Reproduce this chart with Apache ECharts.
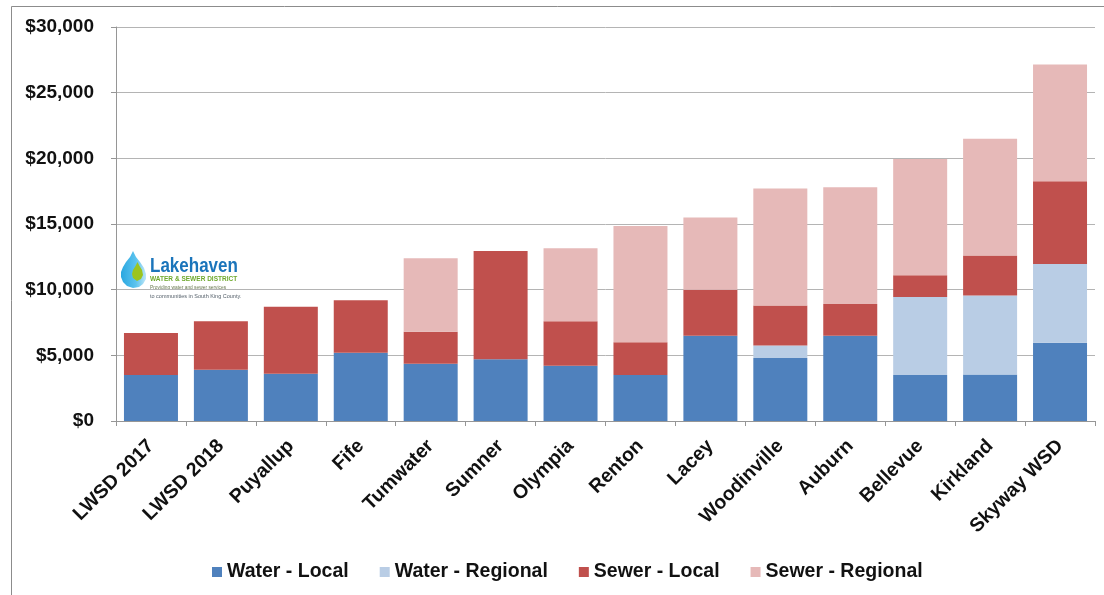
<!DOCTYPE html>
<html>
<head>
<meta charset="utf-8">
<style>html,body{margin:0;padding:0;background:#fff}#chart{width:1104px;height:595px}</style>
<script src="https://cdn.jsdelivr.net/npm/echarts@6/dist/echarts.min.js"></script>
</head>
<body>
<div id="chart"></div>
<script>
// Annual water and sewer cost by utility, stacked by service and source
const categories = ['LWSD 2017','LWSD 2018','Puyallup','Fife','Tumwater','Sumner','Olympia','Renton','Lacey','Woodinville','Auburn','Bellevue','Kirkland','Skyway WSD'];
const waterLocal    = [3500,3900,3600,5200,4350,4700,4200,3500,6500,4800,6500,3500,3550,5950];
const waterRegional = [0,0,0,0,0,0,0,0,0,950,0,5950,6000,6000];
const sewerLocal    = [3200,3700,5100,4000,2450,8250,3400,2500,3500,3050,2400,1650,3050,6300];
const sewerRegional = [0,0,0,0,5600,0,5550,8850,5500,8900,8900,8850,8900,8900];
const yTicks = { min: 0, max: 30000, interval: 5000 };

const FONT = '"Liberation Sans", Arial, sans-serif';
const AXIS_GREY = '#969696';

const seriesOf = (name, data, color) => ({
  name, data, type: 'bar', stack: 'total', barWidth: 54, itemStyle: { color }
});

// Horizontally condensed logo text, anchored at its left edge
const logoText = (text, y, font, fill, scaleX) => ({
  type: 'text', x: 150, y, scaleX, style: { text, x: 0, y: 0, font, fill }
});

// District logo: droplet mark with the name and tagline beside it
const logo = {
  type: 'group', z: 10, children: [
    { type: 'polygon', shape: {
        points: [[133,251],[130,257],[126,262],[123,267],[121,272],[121,277],[123,282],[127,286],[133,288],[139,287],[143,284],[146,279],[146,274],[144,268],[140,262],[136,257]]
      }, style: { fill: new echarts.graphic.LinearGradient(0, 0, 1, 0, [
        { offset: 0, color: '#2aa7e0' }, { offset: 0.6, color: '#5cc3ee' }, { offset: 1, color: '#bfe6f7' }
      ]) } },
    { type: 'polygon', shape: {
        points: [[137.5,262],[135.5,266],[133,270],[132,274],[133,278],[137,281],[141,279],[143,275],[142,270],[139.5,266]]
      }, style: { fill: '#9cc41f' } },
    logoText('Lakehaven', 256, 'bold 20px ' + FONT, '#1b75bb', 0.85),
    logoText('WATER & SEWER DISTRICT', 275, 'bold 7.5px ' + FONT, '#6fa92d', 0.87),
    logoText('Providing water and sewer services', 284, '5.5px ' + FONT, '#6a7a50', 0.88),
    logoText('to communities in South King County.', 293, '5.5px ' + FONT, '#55606a', 1)
  ]
};

// Outer chart frame along the top and left edges
const frame = [
  { type: 'line', shape: { x1: 11.5, y1: 6.5, x2: 1104, y2: 6.5 }, style: { stroke: '#8c8c8c', lineWidth: 1 } },
  { type: 'line', shape: { x1: 11.5, y1: 6.5, x2: 11.5, y2: 595 }, style: { stroke: '#8c8c8c', lineWidth: 1 } }
];

const chart = echarts.init(document.getElementById('chart'), null, { renderer: 'canvas' });
chart.setOption({
  animation: false,
  backgroundColor: '#fff',
  grid: { left: 116, right: 9, top: 27, bottom: 174 },
  legend: {
    left: 207, top: 557, itemWidth: 10, itemHeight: 10, itemGap: 31,
    icon: 'rect',
    textStyle: { fontFamily: FONT, fontWeight: 'bold', fontSize: 19.5, color: '#111' },
    data: ['Water - Local', 'Water - Regional', 'Sewer - Local', 'Sewer - Regional']
  },
  xAxis: {
    type: 'category', data: categories,
    axisLine: { lineStyle: { color: AXIS_GREY, width: 1 } },
    axisTick: { show: true, alignWithLabel: false, length: 5, lineStyle: { color: AXIS_GREY } },
    axisLabel: { interval: 0, rotate: 45, margin: 22, fontFamily: FONT, fontWeight: 'bold', fontSize: 19.5, color: '#111' }
  },
  yAxis: {
    type: 'value', min: yTicks.min, max: yTicks.max, interval: yTicks.interval,
    axisLine: { show: true, lineStyle: { color: AXIS_GREY, width: 1 } },
    axisTick: { show: true, length: 5, lineStyle: { color: AXIS_GREY } },
    splitLine: { lineStyle: { color: '#b4b4b4', width: 1 } },
    axisLabel: {
      margin: 22, padding: [2, 0, 0, 0], fontFamily: FONT, fontWeight: 'bold', fontSize: 19, color: '#111',
      formatter: v => '$' + v.toLocaleString('en-US')
    }
  },
  series: [
    seriesOf('Water - Local', waterLocal, '#4f81bd'),
    seriesOf('Water - Regional', waterRegional, '#b9cde5'),
    seriesOf('Sewer - Local', sewerLocal, '#c0504d'),
    seriesOf('Sewer - Regional', sewerRegional, '#e6b9b8')
  ],
  graphic: { elements: [...frame, logo] }
});
</script>
</body>
</html>
